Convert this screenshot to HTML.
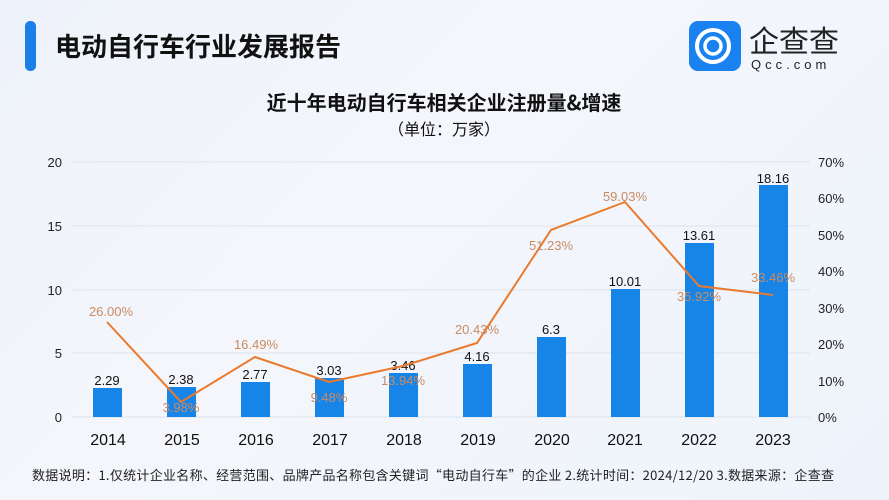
<!DOCTYPE html>
<html><head><meta charset="utf-8"><style>
html,body{margin:0;padding:0;}
body{width:889px;height:500px;overflow:hidden;background:linear-gradient(135deg,#eef2fa 0%,#f4f6fb 40%,#eef3fb 100%);font-family:"Liberation Sans","Noto Sans CJK SC",sans-serif;}
</style></head><body>
<svg width="889" height="500" xmlns="http://www.w3.org/2000/svg" style="position:absolute;left:0;top:0">
<rect x="25" y="21" width="11" height="50" rx="5" fill="#1a7fe8"/>
<text x="55" y="56" font-size="26" font-weight="bold" fill="#111" font-family="Noto Sans CJK SC,sans-serif">电动自行车行业发展报告</text>
<rect x="689" y="21" width="52" height="50" rx="9" fill="#1a82f0"/>
<circle cx="713" cy="46" r="16" fill="none" stroke="#fff" stroke-width="4"/>
<circle cx="713" cy="46" r="8" fill="none" stroke="#fff" stroke-width="3.5"/>
<text x="749" y="52" font-size="30" fill="#222" font-family="Noto Sans CJK SC,sans-serif">企查查</text>
<text x="751" y="69" font-size="13" fill="#222" letter-spacing="4">Qcc.com</text>
<text x="444" y="110" font-size="20" font-weight="bold" fill="#111" text-anchor="middle" font-family="Noto Sans CJK SC,sans-serif">近十年电动自行车相关企业注册量&amp;增速</text>
<text x="444" y="135" font-size="16" fill="#111" text-anchor="middle" font-family="Noto Sans CJK SC,sans-serif">（单位：万家）</text>
<g stroke="#dde3ee" stroke-width="1">
<line x1="72" x2="810" y1="162" y2="162"/><line x1="72" x2="810" y1="226" y2="226"/><line x1="72" x2="810" y1="290" y2="290"/><line x1="72" x2="810" y1="353" y2="353"/><line x1="72" x2="810" y1="417" y2="417"/>
</g>
<g font-size="13" fill="#222" text-anchor="end">
<text x="62" y="167">20</text><text x="62" y="231">15</text><text x="62" y="295">10</text><text x="62" y="358">5</text><text x="62" y="422">0</text>
</g>
<g font-size="13" fill="#222">
<text x="818" y="167">70%</text><text x="818" y="203">60%</text><text x="818" y="240">50%</text><text x="818" y="276">40%</text><text x="818" y="313">30%</text><text x="818" y="349">20%</text><text x="818" y="386">10%</text><text x="818" y="422">0%</text>
</g>
<g fill="#1785e8">
<rect x="93" y="388" width="29" height="29"/><rect x="167" y="387" width="29" height="30"/><rect x="241" y="382" width="29" height="35"/><rect x="315" y="378" width="29" height="39"/><rect x="389" y="373" width="29" height="44"/><rect x="463" y="364" width="29" height="53"/><rect x="537" y="337" width="29" height="80"/><rect x="611" y="289" width="29" height="128"/><rect x="685" y="243" width="29" height="174"/><rect x="759" y="185" width="29" height="232"/>
</g>
<g font-size="13" fill="#111" text-anchor="middle">
<text x="107" y="385">2.29</text><text x="181" y="384">2.38</text><text x="255" y="379">2.77</text><text x="329" y="375">3.03</text><text x="403" y="370">3.46</text><text x="477" y="361">4.16</text><text x="551" y="334">6.3</text><text x="625" y="286">10.01</text><text x="699" y="240">13.61</text><text x="773" y="183">18.16</text>
</g>
<polyline fill="none" stroke="#ea7a2e" stroke-width="2" points="107,322 181,402 255,357 329,382 403,366 477,343 551,230 625,202 699,286 773,295"/>
<g font-size="13" fill="#c98b62" text-anchor="middle">
<text x="111" y="316">26.00%</text><text x="181" y="412">3.98%</text><text x="256" y="349">16.49%</text><text x="329" y="402">9.48%</text><text x="403" y="385">13.94%</text><text x="477" y="334">20.43%</text><text x="551" y="250">51.23%</text><text x="625" y="201">59.03%</text><text x="699" y="301">35.92%</text><text x="773" y="282">33.46%</text>
</g>
<g font-size="16" fill="#111" text-anchor="middle">
<text x="108" y="445">2014</text><text x="182" y="445">2015</text><text x="256" y="445">2016</text><text x="330" y="445">2017</text><text x="404" y="445">2018</text><text x="478" y="445">2019</text><text x="552" y="445">2020</text><text x="625" y="445">2021</text><text x="699" y="445">2022</text><text x="773" y="445">2023</text>
</g>
<text x="32" y="480" font-size="13" fill="#222" font-family="Noto Sans CJK SC,sans-serif" textLength="802" lengthAdjust="spacing">数据说明：1.仅统计企业名称、经营范围、品牌产品名称包含关键词“电动自行车”的企业  2.统计时间：2024/12/20   3.数据来源：企查查</text>
</svg>
</body></html>
